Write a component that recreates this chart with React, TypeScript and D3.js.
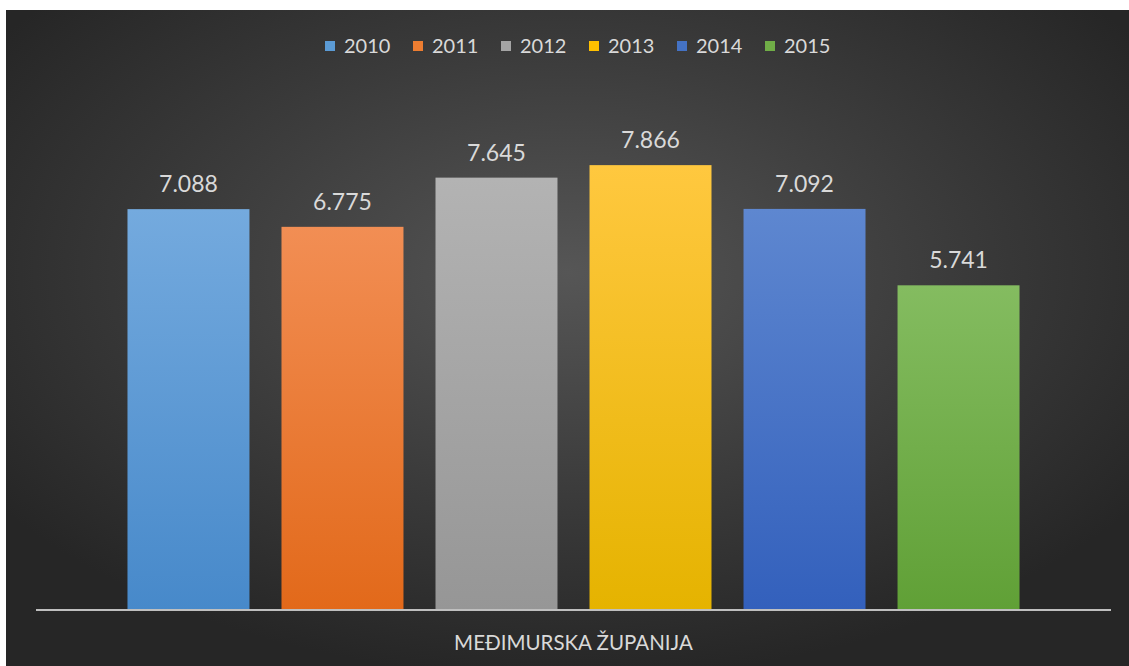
import React from "react";
import * as d3 from "d3";

const years = ["2010", "2011", "2012", "2013", "2014", "2015"];
const values = [7.088, 6.775, 7.645, 7.866, 7.092, 5.741];
const labels = ["7.088", "6.775", "7.645", "7.866", "7.092", "5.741"];
const category = "MEĐIMURSKA ŽUPANIJA";
const topColors = ["#74aade", "#f28e54", "#b3b3b3", "#ffc83f", "#5e87d0", "#84bc60"];
const bottomColors = ["#4789ca", "#e2691a", "#969696", "#e5b300", "#3360bc", "#60a036"];
const legendColors = ["#5b9bd5", "#ed7d31", "#a5a5a5", "#ffc000", "#4472c4", "#70ad47"];

const W = 1129;
const H = 666;
const FONT = "Lato, 'Open Sans', sans-serif";

export default function App() {
  const x = d3
    .scaleBand<string>()
    .domain(years)
    .range([36, 1111])
    .paddingInner(0.208)
    .paddingOuter(0.594);
  const y = d3.scaleLinear().domain([0, 9]).range([610, 101]);

  const legendX = d3.scaleLinear().domain([0, 5]).range([325, 765]);

  return (
    <svg
      width={W}
      height={H}
      style={{ position: "absolute", left: 0, top: 0 }}
      fontFamily={FONT}
    >
      <defs>
        <radialGradient id="bg" cx="50%" cy="40%" r="62%">
          <stop offset="0%" stopColor="#565656" />
          <stop offset="55%" stopColor="#3b3b3b" />
          <stop offset="100%" stopColor="#262626" />
        </radialGradient>
        {years.map((yr, i) => (
          <linearGradient key={yr} id={`g${i}`} x1="0" y1="0" x2="0" y2="1">
            <stop offset="0%" stopColor={topColors[i]} />
            <stop offset="100%" stopColor={bottomColors[i]} />
          </linearGradient>
        ))}
      </defs>
      <rect x={0} y={0} width={W} height={H} fill="#ffffff" />
      <rect x={6} y={10} width={W - 6} height={H - 10} fill="url(#bg)" />

      {/* legend */}
      {years.map((yr, i) => (
        <g key={yr} transform={`translate(${legendX(i)},0)`}>
          <rect x={0} y={41} width={10} height={10} fill={legendColors[i]} />
          <text x={19} y={53} fontSize={20} fill="#d9d9d9">
            {yr}
          </text>
        </g>
      ))}

      {/* bars */}
      {years.map((yr, i) => (
        <rect
          key={yr}
          x={x(yr)}
          y={y(values[i])}
          width={x.bandwidth()}
          height={y(0) - y(values[i])}
          fill={`url(#g${i})`}
        />
      ))}

      {/* value labels */}
      {years.map((yr, i) => (
        <text
          key={yr}
          x={(x(yr) as number) + x.bandwidth() / 2}
          y={y(values[i]) - 17}
          textAnchor="middle"
          fontSize={23}
          fill="#d9d9d9"
        >
          {labels[i]}
        </text>
      ))}

      {/* axis line */}
      <line x1={36} x2={1111} y1={y(0)} y2={y(0)} stroke="#bfbfbf" strokeWidth={2} />

      {/* category */}
      <text x={573.5} y={650} textAnchor="middle" fontSize={20.5} fill="#d9d9d9">
        {category}
      </text>
    </svg>
  );
}
